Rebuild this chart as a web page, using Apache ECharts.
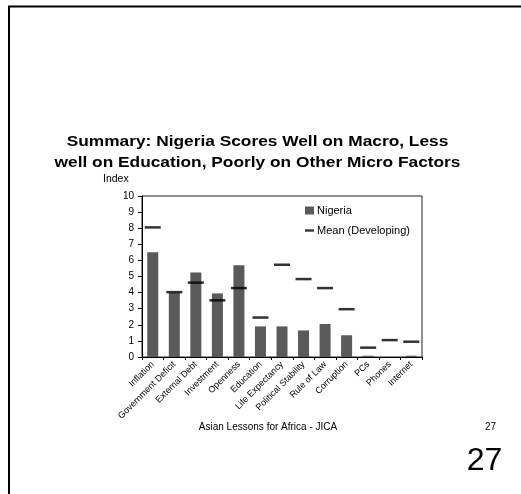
<!DOCTYPE html>
<html>
<head>
<meta charset="utf-8">
<script src="https://cdn.jsdelivr.net/npm/echarts@6/dist/echarts.min.js"></script>
<style>
  html, body { margin: 0; padding: 0; background: #fff; }
  #chart { width: 521px; height: 494px; }
</style>
</head>
<body>
<div id="chart"></div>
<script>
// Indicator categories along the x axis
const categories = [
  'Inflation', 'Government Deficit', 'External Debt', 'Investment', 'Openness',
  'Education', 'Life Expectancy', 'Political Stability', 'Rule of Law',
  'Corruption', 'PCs', 'Phones', 'Internet'
];
// Nigeria's index score per indicator
const nigeria = [6.5, 4.0, 5.25, 3.95, 5.7, 1.9, 1.9, 1.65, 2.05, 1.35, 0.08, 0, 0.08];
// Mean score across developing countries
const meanDeveloping = [8.05, 4.03, 4.62, 3.52, 4.28, 2.45, 5.73, 4.84, 4.28, 2.97, 0.58, 1.05, 0.95];
// Y axis range
const yTicks = { min: 0, max: 10, step: 1 };

const FONT = '"Liberation Sans", Arial, Helvetica, sans-serif';
const TITLE = 'Summary: Nigeria Scores Well on Macro, Less\nwell on Education, Poorly on Other Micro Factors';

const chart = echarts.init(document.getElementById('chart'), null, { renderer: 'canvas' });

chart.setOption({
  backgroundColor: '#ffffff',
  animation: false,
  textStyle: { fontFamily: FONT, color: '#000' },
  legend: {
    orient: 'vertical',
    left: 305,
    top: 205,
    padding: 0,
    itemWidth: 9,
    itemHeight: 8,
    itemGap: 9,
    symbolKeepAspect: true,
    textStyle: { fontFamily: FONT, fontSize: 11, color: '#000', padding: [0, 0, 0, -2] },
    data: [
      { name: 'Nigeria', icon: 'rect' },
      { name: 'Mean (Developing)', icon: 'path://M0,0H10V2.6H0Z' }
    ]
  },
  grid: {
    left: 142, right: 99, top: 196, bottom: 137,
    show: true, borderColor: '#222', borderWidth: 1, backgroundColor: 'transparent'
  },
  xAxis: {
    type: 'category',
    data: categories,
    axisLine: { lineStyle: { color: '#000', width: 1 } },
    axisTick: { show: true, length: 3, lineStyle: { color: '#000' } },
    axisLabel: {
      interval: 0, rotate: 45, fontSize: 9, margin: 6,
      fontFamily: FONT, color: '#000'
    }
  },
  yAxis: {
    type: 'value',
    min: yTicks.min, max: yTicks.max, interval: yTicks.step,
    axisLine: { show: true, lineStyle: { color: '#000', width: 1 } },
    axisTick: { show: true, length: 4, lineStyle: { color: '#000' } },
    axisLabel: { fontSize: 10, margin: 8, fontFamily: FONT, color: '#000' },
    splitLine: { show: false }
  },
  series: [
    {
      name: 'Nigeria',
      type: 'bar',
      data: nigeria,
      barWidth: 11,
      itemStyle: { color: '#5a5a5a' }
    },
    {
      name: 'Mean (Developing)',
      type: 'scatter',
      data: meanDeveloping,
      symbol: 'rect',
      symbolSize: [16, 2.5],
      itemStyle: { color: '#000' },
      z: 5
    }
  ],
  graphic: [
    // slide frame: top and left edges
    { type: 'line', shape: { x1: 8, y1: 6.5, x2: 521, y2: 6.5 }, style: { stroke: '#000', lineWidth: 2 } },
    { type: 'line', shape: { x1: 9, y1: 6, x2: 9, y2: 494 }, style: { stroke: '#000', lineWidth: 2 } },
    // slide heading, slightly widened like the slide's wide lettering
    {
      type: 'text', x: 257.5, y: 131, scaleX: 1.17,
      style: {
        text: TITLE, fontFamily: FONT, fontSize: 14.8, fontWeight: 'bold',
        lineHeight: 21, fill: '#000', align: 'center', verticalAlign: 'top'
      }
    },
    {
      type: 'text', left: 103, top: 174,
      style: { text: 'Index', fontFamily: FONT, fontSize: 10.5, fill: '#000' }
    },
    {
      type: 'text', x: 268, y: 427,
      style: { text: 'Asian Lessons for Africa - JICA', fontFamily: FONT, fontSize: 10, fill: '#000', align: 'center', verticalAlign: 'middle' }
    },
    {
      type: 'text', x: 490.5, y: 427,
      style: { text: '27', fontFamily: FONT, fontSize: 10, fill: '#000', align: 'center', verticalAlign: 'middle' }
    },
    {
      type: 'text', x: 484.5, y: 461,
      style: { text: '27', fontFamily: FONT, fontSize: 32, fill: '#000', align: 'center', verticalAlign: 'middle' }
    }
  ]
});
</script>
</body>
</html>
